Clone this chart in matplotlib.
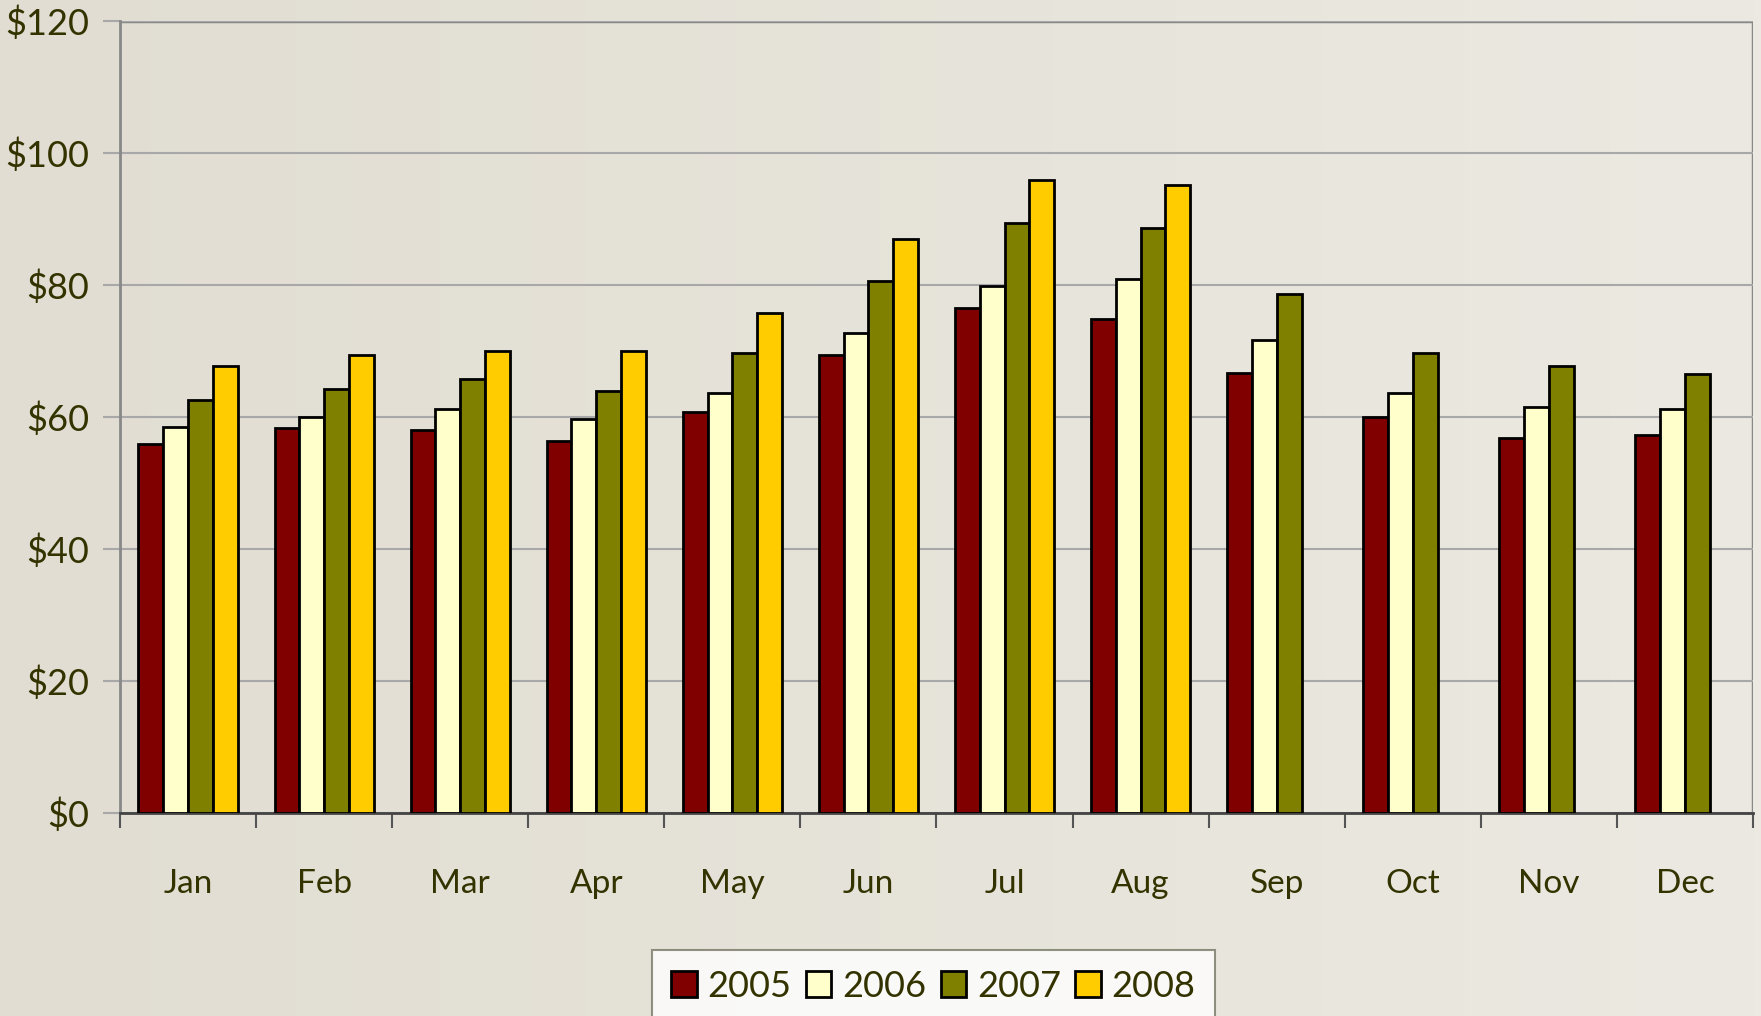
import numpy as np
import matplotlib
matplotlib.use('Agg')
import matplotlib.pyplot as plt

plt.rcParams['font.family'] = ['Lato', 'DejaVu Sans']

# 数据
months = ['Jan', 'Feb', 'Mar', 'Apr', 'May', 'Jun', 'Jul', 'Aug', 'Sep', 'Oct', 'Nov', 'Dec']
years = ['2005', '2006', '2007', '2008']
v2005 = [55.9, 58.3, 58.0, 56.3, 60.7, 69.4, 76.5, 74.8, 66.6, 60.0, 56.8, 57.3]
v2006 = [58.5, 60.0, 61.2, 59.7, 63.6, 72.8, 79.9, 80.9, 71.6, 63.6, 61.5, 61.2]
v2007 = [62.6, 64.3, 65.8, 63.9, 69.7, 80.6, 89.4, 88.6, 78.7, 69.7, 67.8, 66.5]
v2008 = [67.7, 69.4, 70.0, 70.0, 75.8, 87.0, 95.9, 95.2, np.nan, np.nan, np.nan, np.nan]
colors = ['#800000', '#ffffcc', '#808000', '#ffcc00']

text_color = '#333300'
bg = '#e4e1d6'

fig = plt.figure(figsize=(17.61, 10.16), dpi=100, facecolor=bg)

# 背景渐变
bg_ax = fig.add_axes([0, 0, 1, 1], zorder=-10)
c_left = np.array([225, 221, 210]) / 255
c_right = np.array([235, 233, 225]) / 255
t = np.linspace(0, 1, 256)
grad = (c_left[None, :] * (1 - t[:, None]) + c_right[None, :] * t[:, None])[None, :, :]
bg_ax.imshow(grad, aspect='auto', extent=[0, 1, 0, 1])
bg_ax.axis('off')

ax = fig.add_axes([0.0681, 0.1998, 0.9274, 0.7795])
ax.set_facecolor('none')

x = np.arange(len(months))
w = 0.182
for i, (vals, c, lab) in enumerate(zip([v2005, v2006, v2007, v2008], colors, years)):
    ax.bar(x + (i - 1.5) * w, vals, width=w, color=c, edgecolor='black',
           linewidth=2, label=lab, zorder=3)

ax.set_xlim(-0.5, len(months) - 0.5)
ax.set_ylim(0, 120)
ax.set_yticks(range(0, 121, 20))
ax.set_yticklabels(['$%d' % v for v in range(0, 121, 20)], fontsize=26, color=text_color)
ax.yaxis.grid(True, color='#a8a8a8', linewidth=1.5, zorder=0)

# x轴：刻度在分界处，标签在中间
ax.set_xticks(np.arange(-0.5, len(months), 1))
ax.set_xticklabels([])
ax.set_xticks(x, minor=True)
ax.set_xticklabels(months, minor=True, fontsize=24, color=text_color)
ax.tick_params(axis='x', which='major', length=11, width=1.5, color='#555555')
ax.tick_params(axis='x', which='minor', length=0, pad=40)
ax.tick_params(axis='y', length=12, width=1.5, color='#a8a8a8', pad=10)

for s in ['top', 'right']:
    ax.spines[s].set_visible(False)
ax.spines['left'].set_color('#888888')
ax.spines['left'].set_linewidth(2)
ax.spines['bottom'].set_color('#444444')
ax.spines['bottom'].set_linewidth(2)
ax.axhline(120, color='#888888', linewidth=2.5, zorder=1)
ax.axvline(len(months) - 0.5, color='#888888', linewidth=2.5, zorder=1)

leg = fig.legend(loc='upper center', bbox_to_anchor=(0.530, 0.083), ncol=4,
                 fontsize=26, frameon=True, fancybox=False, handlelength=0.7,
                 handleheight=0.7, handletextpad=0.3, columnspacing=0.4,
                 borderpad=0.55)
leg.get_frame().set_facecolor('white')
leg.get_frame().set_edgecolor('#777766')
leg.get_frame().set_linewidth(1.5)
for t in leg.get_texts():
    t.set_color(text_color)

fig.savefig('out.png', dpi=100, facecolor=bg)
